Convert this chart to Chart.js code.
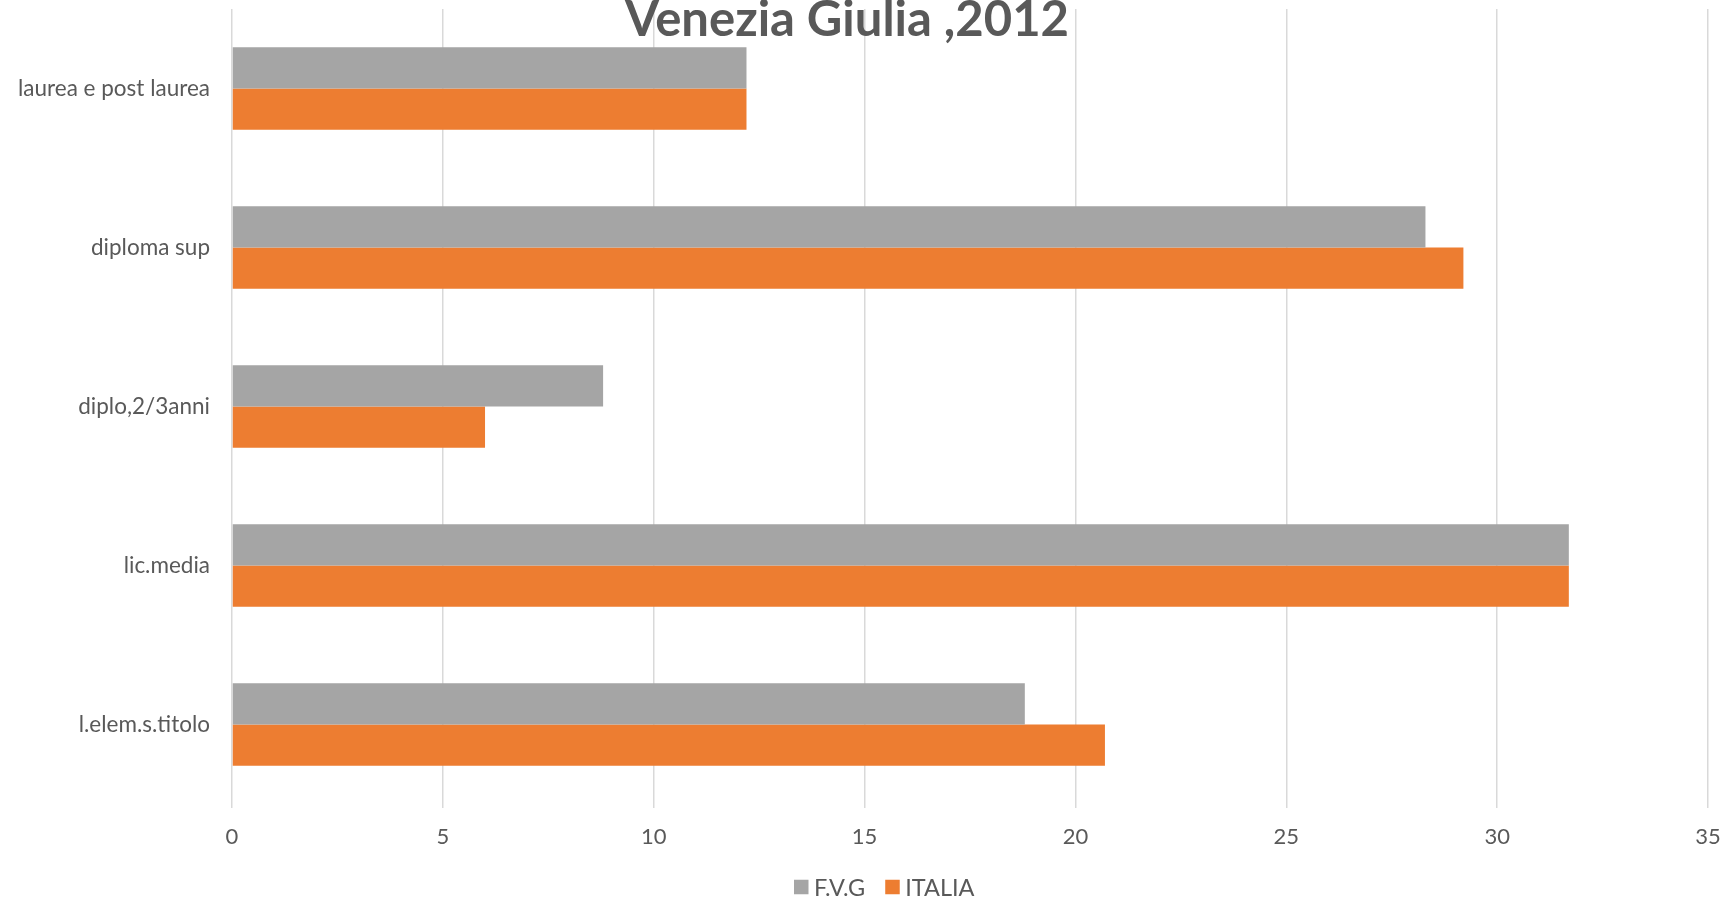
<!DOCTYPE html>
<html>
<head>
<meta charset="utf-8">
<script src="https://cdn.jsdelivr.net/npm/chart.js@4/dist/chart.umd.min.js"></script>
<style>
html,body{margin:0;padding:0;background:#fff;}
#wrap{width:1726px;height:899px;position:relative;}
</style>
</head>
<body>
<div id="wrap"><canvas id="c" width="1726" height="899"></canvas></div>
<script>
const titleText = 'Venezia Giulia ,2012';
const categories = ['laurea e post laurea', 'diploma sup', 'diplo,2/3anni', 'lic.media', 'l.elem.s.titolo'];
const fvg = [12.2, 28.3, 8.8, 31.7, 18.8];
const italia = [12.2, 29.2, 6.0, 31.7, 20.7];
const seriesNames = ['F.V.G', 'ITALIA'];
const seriesColors = ['#A5A5A5', '#ED7D31'];
const xTicks = {min: 0, max: 35, step: 5};

const FONT = 'Lato, Carlito, "Open Sans", sans-serif';
const TXT = '#595959';

const titlePlugin = {
  id: 'topTitle',
  afterDraw(chart) {
    const ctx = chart.ctx;
    ctx.save();
    ctx.font = 'bold 49px ' + FONT;
    ctx.fillStyle = TXT;
    ctx.textAlign = 'center';
    ctx.textBaseline = 'alphabetic';
    ctx.fillText(titleText, 847, 36);
    ctx.restore();
  }
};

const legendPlugin = {
  id: 'bottomLegend',
  afterDraw(chart) {
    const ctx = chart.ctx;
    ctx.save();
    ctx.font = '23.5px ' + FONT;
    ctx.textBaseline = 'middle';
    ctx.textAlign = 'left';
    const y = 887, box = 14.5, gapText = 5.5, gapItem = 20;
    let x = 794;
    chart.data.datasets.forEach(ds => {
      ctx.fillStyle = ds.backgroundColor;
      ctx.fillRect(x, y - box / 2, box, box);
      x += box + gapText;
      ctx.fillStyle = TXT;
      ctx.fillText(ds.label, x, y + 1);
      x += ctx.measureText(ds.label).width + gapItem;
    });
    ctx.restore();
  }
};

new Chart(document.getElementById('c'), {
  type: 'bar',
  data: {
    labels: categories,
    datasets: [
      {label: seriesNames[0], data: fvg, backgroundColor: seriesColors[0], borderWidth: 0},
      {label: seriesNames[1], data: italia, backgroundColor: seriesColors[1], borderWidth: 0}
    ]
  },
  options: {
    indexAxis: 'y',
    responsive: false,
    animation: false,
    devicePixelRatio: 1,
    layout: {padding: {top: 9, right: 18, left: 0, bottom: 33}},
    datasets: {bar: {categoryPercentage: 0.52, barPercentage: 1.0}},
    scales: {
      x: {
        min: xTicks.min, max: xTicks.max,
        ticks: {stepSize: xTicks.step, color: TXT, font: {family: FONT, size: 22}, padding: 16},
        grid: {color: '#D9D9D9', lineWidth: 1.5, tickLength: 4},
        border: {display: false},
        afterFit(s) { s.height = 62; s.paddingLeft = 0; s.paddingRight = 0; }
      },
      y: {
        ticks: {color: TXT, font: {family: FONT, size: 22.5}, padding: 22},
        grid: {display: false, drawTicks: false},
        border: {display: false},
        afterFit(s) { s.width = 232; s.paddingTop = 0; s.paddingBottom = 0; }
      }
    },
    plugins: {
      legend: {display: false},
      tooltip: {enabled: false}
    }
  },
  plugins: [titlePlugin, legendPlugin]
});
</script>
</body>
</html>
